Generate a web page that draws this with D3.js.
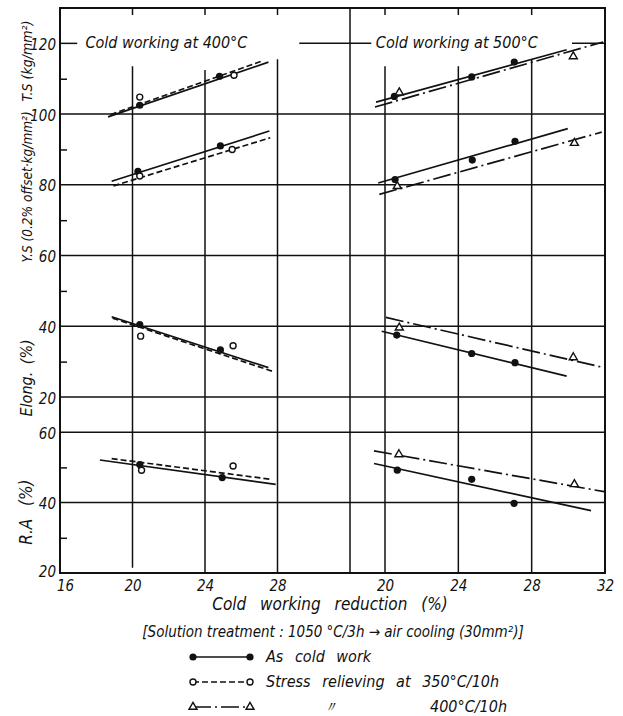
<!DOCTYPE html>
<html>
<head>
<meta charset="utf-8">
<script src="https://cdn.jsdelivr.net/npm/d3@7"></script>
<style>
  html, body { margin: 0; padding: 0; background: #fff; }
  svg text { font-family: "DejaVu Sans Condensed", "Liberation Sans Narrow", "DejaVu Sans", sans-serif; font-style: italic; fill: #111; }
</style>
</head>
<body>
<svg id="chart" width="623" height="716"></svg>
<script>
// ---------------- DATA ----------------
const reduction400Ticks = [16, 20, 24, 28];
const reduction500Ticks = [20, 24, 28, 32];
const upperTicks = [120, 100, 80, 60, 40, 20];
const upperMinorTicks = [110, 90, 70, 50, 30];
const raTicks = [60, 40, 20];
const raMinorTicks = [50, 30];

const panelTitles = ["Cold working at 400°C", "Cold working at 500°C"];
const axisTitles = ["T.S (kg/mm²)", "Y.S (0.2% offset·kg/mm²)", "Elong. (%)", "R.A (%)"];
const xTitle = "Cold working reduction (%)";
const noteText = "[Solution treatment : 1050 °C/3h → air cooling (30mm²)]";
const legendLabels = ["As cold work", "Stress relieving at 350°C/10h", "400°C/10h"];

// Cold working at 400°C  [reduction %, value]
const ts400AsCold = [[20.4, 102.5], [24.8, 110.7]];
const ts400Stress350 = [[20.4, 104.8], [25.6, 111.0]];
const ts400AsColdLine = [[18.65, 99.2], [27.5, 114.7]];
const ts400Stress350Line = [[18.8, 99.9], [27.1, 114.9]];
const ys400AsCold = [[20.3, 83.8], [24.85, 91.0]];
const ys400Stress350 = [[20.4, 82.5], [25.5, 90.0]];
const ys400AsColdLine = [[18.85, 81.0], [27.55, 95.2]];
const ys400Stress350Line = [[18.95, 79.7], [27.6, 93.3]];
const el400AsCold = [[20.4, 40.5], [24.85, 33.3]];
const el400Stress350 = [[20.45, 37.2], [25.55, 34.5]];
const el400AsColdLine = [[18.85, 42.7], [27.5, 28.3]];
const el400Stress350Line = [[18.9, 42.3], [27.7, 27.3]];
const ra400AsCold = [[20.4, 50.8], [24.95, 47.1]];
const ra400Stress350 = [[20.5, 49.2], [25.55, 50.4]];
const ra400AsColdLine = [[18.2, 52.1], [27.9, 45.2]];
const ra400Stress350Line = [[18.85, 52.5], [27.65, 46.6]];

// Cold working at 500°C
const ts500AsCold = [[20.51, 105.0], [24.73, 110.5], [27.05, 114.7]];
const ts500Stress400 = [[20.78, 106.1], [30.27, 116.3]];
const ts500AsColdLine = [[19.51, 103.4], [29.91, 118.2]];
const ts500Stress400Line = [[19.45, 102.0], [31.9, 120.4]];
const ys500AsCold = [[20.55, 81.5], [24.76, 87.0], [27.09, 92.3]];
const ys500Stress400 = [[20.67, 79.6], [30.33, 91.8]];
const ys500AsColdLine = [[19.63, 80.5], [29.97, 95.9]];
const ys500Stress400Line = [[19.69, 77.3], [31.82, 94.9]];
const el500AsCold = [[20.64, 37.5], [24.73, 32.3], [27.09, 29.7]];
const el500Stress400 = [[20.78, 39.6], [30.27, 31.2]];
const el500AsColdLine = [[19.82, 38.6], [29.91, 25.9]];
const el500Stress400Line = [[20.05, 42.5], [31.95, 28.3]];
const ra500AsCold = [[20.67, 49.2], [24.73, 46.6], [27.04, 39.8]];
const ra500Stress400 = [[20.76, 53.7], [30.33, 45.2]];
const ra500AsColdLine = [[19.4, 51.1], [31.24, 37.7]];
const ra500Stress400Line = [[19.4, 54.7], [31.96, 43.1]];

// ---------------- SCALES ----------------
const svg = d3.select("#chart");
const ink = "#111";
const xL = d3.scaleLinear().domain([16, 32]).range([60, 350]);
const xR = d3.scaleLinear().domain([20, 32]).range([385, 605]);
const yU = d3.scaleLinear().domain([130, 20]).range([8, 397]);
const yB = d3.scaleLinear().domain([70, 20]).range([397, 573]);

const styles = {
  solid: null,
  dashed: "6,3",
  dashdot: "18,4,2,4"
};

// series table built from the arrays
const series = [
  {x: xL, y: yU, line: ts400AsColdLine, pts: ts400AsCold, style: "solid", mark: "filled"},
  {x: xL, y: yU, line: ts400Stress350Line, pts: ts400Stress350, style: "dashed", mark: "open"},
  {x: xL, y: yU, line: ys400AsColdLine, pts: ys400AsCold, style: "solid", mark: "filled"},
  {x: xL, y: yU, line: ys400Stress350Line, pts: ys400Stress350, style: "dashed", mark: "open"},
  {x: xL, y: yU, line: el400AsColdLine, pts: el400AsCold, style: "solid", mark: "filled"},
  {x: xL, y: yU, line: el400Stress350Line, pts: el400Stress350, style: "dashed", mark: "open"},
  {x: xL, y: yB, line: ra400AsColdLine, pts: ra400AsCold, style: "solid", mark: "filled"},
  {x: xL, y: yB, line: ra400Stress350Line, pts: ra400Stress350, style: "dashed", mark: "open"},
  {x: xR, y: yU, line: ts500AsColdLine, pts: ts500AsCold, style: "solid", mark: "filled"},
  {x: xR, y: yU, line: ts500Stress400Line, pts: ts500Stress400, style: "dashdot", mark: "tri"},
  {x: xR, y: yU, line: ys500AsColdLine, pts: ys500AsCold, style: "solid", mark: "filled"},
  {x: xR, y: yU, line: ys500Stress400Line, pts: ys500Stress400, style: "dashdot", mark: "tri"},
  {x: xR, y: yU, line: el500AsColdLine, pts: el500AsCold, style: "solid", mark: "filled"},
  {x: xR, y: yU, line: el500Stress400Line, pts: el500Stress400, style: "dashdot", mark: "tri"},
  {x: xR, y: yB, line: ra500AsColdLine, pts: ra500AsCold, style: "solid", mark: "filled"},
  {x: xR, y: yB, line: ra500Stress400Line, pts: ra500Stress400, style: "dashdot", mark: "tri"}
];

// ---------------- GRID ----------------
const grid = svg.append("g").attr("stroke", ink).attr("stroke-width", 1.5).attr("fill", "none");
const left = xL(16), right = xR(32);
upperTicks.filter(v => v !== 120).forEach(v => {
  grid.append("line").attr("x1", left).attr("x2", right).attr("y1", yU(v)).attr("y2", yU(v));
});
[[xL(16), xL(16.95)], [xL(29.2), xR(19.25)], [xR(30.2), xR(32)]].forEach(s => {
  grid.append("line").attr("x1", s[0]).attr("x2", s[1]).attr("y1", yU(120)).attr("y2", yU(120));
});
raTicks.filter(v => v !== 20).forEach(v => {
  grid.append("line").attr("x1", left).attr("x2", right).attr("y1", yB(v)).attr("y2", yB(v));
});
const vStart400 = {20: 113.5, 24: 112.5, 28: 115.5};
const vStart500 = {20: 113.5, 24: 113.5, 28: 115.5};
[20, 24, 28].forEach(t => {
  grid.append("line").attr("x1", xL(t)).attr("x2", xL(t)).attr("y1", yU(vStart400[t])).attr("y2", t === 20 ? yB(21.5) : yB(20));
  grid.append("line").attr("x1", xL(t)).attr("x2", xL(t)).attr("y1", yU(130)).attr("y2", yU(128));
  grid.append("line").attr("x1", xR(t)).attr("x2", xR(t)).attr("y1", yU(vStart500[t])).attr("y2", yB(20));
  grid.append("line").attr("x1", xR(t)).attr("x2", xR(t)).attr("y1", yU(130)).attr("y2", yU(128));
});
grid.append("line").attr("x1", xL(32)).attr("x2", xL(32)).attr("y1", yU(130)).attr("y2", yB(20));
svg.append("rect").attr("x", left).attr("y", yU(130)).attr("width", right - left).attr("height", yB(20) - yU(130))
  .attr("fill", "none").attr("stroke", ink).attr("stroke-width", 2);

// ---------------- AXES ----------------
const fmt = d3.format("d");
function styleTicks(a, size) {
  a.select(".domain").remove();
  a.selectAll("text").attr("font-size", size).attr("fill", ink)
    .style("font-style", "italic")
    .style("font-family", '"DejaVu Sans Condensed", "Liberation Sans Narrow", sans-serif');
}
const axU = svg.append("g").attr("transform", `translate(${left},0)`)
  .call(d3.axisLeft(yU).tickValues(upperTicks).tickSize(0).tickPadding(4).tickFormat(fmt));
const axB = svg.append("g").attr("transform", `translate(${left},0)`)
  .call(d3.axisLeft(yB).tickValues(raTicks).tickSize(0).tickPadding(4).tickFormat(fmt));
[axU, axB].forEach(a => { styleTicks(a, 15); a.selectAll("text").attr("dy", "0.4em"); });
axB.selectAll("text").filter(d => d === 20).attr("dy", "0.2em");
const minorU = svg.append("g").attr("transform", `translate(${left},0)`)
  .call(d3.axisRight(yU).tickValues(upperMinorTicks).tickSize(7).tickFormat(""));
const minorB = svg.append("g").attr("transform", `translate(${left},0)`)
  .call(d3.axisRight(yB).tickValues(raMinorTicks).tickSize(7).tickFormat(""));
[minorU, minorB].forEach(a => {
  a.select(".domain").remove();
  a.selectAll("line").attr("stroke", ink).attr("stroke-width", 1.5);
});
const axXL = svg.append("g").attr("transform", `translate(0,${yB(20)})`)
  .call(d3.axisBottom(xL).tickValues(reduction400Ticks).tickSize(0).tickPadding(7).tickFormat(fmt));
const axXR = svg.append("g").attr("transform", `translate(0,${yB(20)})`)
  .call(d3.axisBottom(xR).tickValues(reduction500Ticks).tickSize(0).tickPadding(7).tickFormat(fmt));
[axXL, axXR].forEach(a => styleTicks(a, 15));
axXL.selectAll("text").filter(d => d === 16).attr("dx", "5");

// ---------------- TITLES ----------------
svg.append("text").attr("x", xL(17.4)).attr("y", yU(120) + 5).attr("font-size", 16).text(panelTitles[0]);
svg.append("text").attr("x", xR(19.5)).attr("y", yU(120) + 5).attr("font-size", 16).text(panelTitles[1]);

const yTitlePos = [yU(115), yU(79.4), yU(25.4), yB(37.3)];
const yTitleSize = [14, 13.5, 16, 17];
const yTitleSpacing = ["0px", "0px", "3px", "8px"];
axisTitles.forEach((t, i) => {
  svg.append("text").attr("transform", `translate(32,${yTitlePos[i]}) rotate(-90)`)
    .attr("text-anchor", "middle").attr("font-size", yTitleSize[i])
    .style("word-spacing", yTitleSpacing[i]).text(t);
});

svg.append("text").attr("x", 330).attr("y", 610).attr("text-anchor", "middle")
  .attr("font-size", 17).style("word-spacing", "9px").text(xTitle);
svg.append("text").attr("x", 333).attr("y", 637).attr("text-anchor", "middle")
  .attr("font-size", 15).text(noteText);

// ---------------- DATA MARKS ----------------
const lineGen = (sx, sy) => d3.line().x(d => sx(d[0])).y(d => sy(d[1]));
const marks = svg.append("g");
series.forEach(s => {
  marks.append("path").attr("d", lineGen(s.x, s.y)(s.line))
    .attr("fill", "none").attr("stroke", ink).attr("stroke-width", 1.7)
    .attr("stroke-dasharray", styles[s.style]);
});
function drawMark(g, kind, cx, cy) {
  if (kind === "filled") {
    g.append("circle").attr("cx", cx).attr("cy", cy).attr("r", 3.6).attr("fill", ink);
  } else if (kind === "open") {
    g.append("circle").attr("cx", cx).attr("cy", cy).attr("r", 3).attr("fill", "#fff")
      .attr("stroke", ink).attr("stroke-width", 1.4);
  } else {
    g.append("path").attr("d", d3.symbol().type(d3.symbolTriangle).size(28)())
      .attr("transform", `translate(${cx},${cy})`).attr("fill", "#fff")
      .attr("stroke", ink).attr("stroke-width", 1.4);
  }
}
series.forEach(s => {
  s.pts.forEach(p => drawMark(marks, s.mark, s.x(p[0]), s.y(p[1])));
});

// ---------------- LEGEND ----------------
const legend = [
  {style: "solid", mark: "filled", y: 657},
  {style: "dashed", mark: "open", y: 682},
  {style: "dashdot", mark: "tri", y: 707}
];
const lg = svg.append("g");
legend.forEach((l, i) => {
  lg.append("line").attr("x1", 193).attr("x2", 250).attr("y1", l.y).attr("y2", l.y)
    .attr("stroke", ink).attr("stroke-width", 1.5).attr("stroke-dasharray", styles[l.style]);
  drawMark(lg, l.mark, 193, l.y);
  drawMark(lg, l.mark, 250, l.y);
  if (i < 2) {
    lg.append("text").attr("x", 266).attr("y", l.y + 5).attr("font-size", 16)
      .style("word-spacing", "7px").text(legendLabels[i]);
  } else {
    lg.append("text").attr("x", 323).attr("y", l.y + 5).attr("font-size", 15).text("〃");
    lg.append("text").attr("x", 430).attr("y", l.y + 5).attr("font-size", 16).text(legendLabels[i]);
  }
});
</script>
</body>
</html>
